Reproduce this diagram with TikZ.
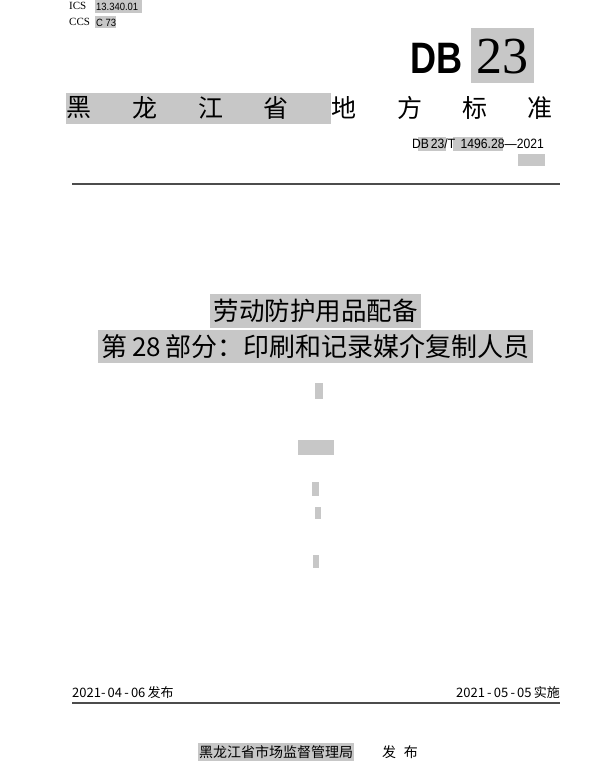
\documentclass[tikz,border=0pt]{standalone}
\usepackage{fontspec}
\setmainfont{Liberation Serif}
\newfontfamily\cjk{Noto Sans CJK SC}
\newfontfamily\lsans{Liberation Sans}
\definecolor{hl}{gray}{0.78}
\begin{document}
\begin{tikzpicture}[x=1pt,y=-1pt,
  txt/.style={inner sep=0pt,anchor=center}]
\useasboundingbox[fill=white] (0,0) rectangle (600,768);
% highlight boxes
\fill[hl] (95,0) rectangle (142,13);
\fill[hl] (95,16) rectangle (116,28);
\fill[hl] (471,28) rectangle (534,83);
\fill[hl] (66,93) rectangle (331,124);
\fill[hl] (418,137) rectangle (446,151);
\fill[hl] (453,137) rectangle (503,151);
\fill[hl] (518,154) rectangle (545,166);
\fill[hl] (210,294) rectangle (421,328);
\fill[hl] (98,330) rectangle (533,363);
\fill[hl] (315,383) rectangle (323,399);
\fill[hl] (298,440) rectangle (334,455);
\fill[hl] (312,482) rectangle (319,496);
\fill[hl] (315,507) rectangle (321,519);
\fill[hl] (313,555) rectangle (319,568);
\fill[hl] (198,743) rectangle (354,761);
% header
\node[txt,anchor=west] (ics) at (69,5.5) {\fontsize{11}{11}\selectfont ICS};
\node[txt,anchor=west] (icsv) at (96,6.5) {\lsans\fontsize{10.5}{10.5}\selectfont\scalebox{0.9}[1]{13.340.01}};
\node[txt,anchor=west] (ccs) at (69,22) {\fontsize{11}{11}\selectfont CCS};
\node[txt,anchor=west] (ccsv) at (96,22.5) {\lsans\fontsize{10.5}{10.5}\selectfont\scalebox{0.9}[1]{C 73}};
\node[txt,anchor=east] (db) at (463,58) {\lsans\bfseries\fontsize{44}{44}\selectfont\scalebox{0.82}[1]{DB}};
\node[txt] (n23) at (502,57) {\fontsize{52}{52}\selectfont 23};
% title line
\foreach \c/\x [count=\i] in {黑/79,龙/145,江/211,省/276,地/344,方/410,标/475,准/540}
  \node[txt] (t\i) at (\x,108) {\cjk\fontsize{25}{25}\selectfont \c};
\node[txt,anchor=east] (code) at (544,144) {\lsans\fontsize{13.5}{13.5}\selectfont\scalebox{0.9}[1]{DB\,23/T\;\,1496.28—2021}};
\draw[line width=1.3pt,gray!60!black] (72,184) -- (560,184);
% titles
\node[txt] (ti1) at (315.5,311) {\cjk\fontsize{25.5}{25.5}\selectfont 劳动防护用品配备};
\node[txt] (ti2) at (315.5,347) {\cjk\fontsize{26}{26}\selectfont 第\,28\,部分：印刷和记录媒介复制人员};
% dates
\node[txt,anchor=west] (d1) at (72,693) {\cjk\fontsize{13}{13}\selectfont 2021-\,04\,-\,06\,发布};
\node[txt,anchor=east] (d2) at (560,693) {\cjk\fontsize{13}{13}\selectfont 2021\,-\,05\,-\,05\,实施};
\draw[line width=1.3pt,gray!60!black] (72,703) -- (560,703);
\node[txt] (pub) at (276,752) {\cjk\fontsize{14}{14}\selectfont 黑龙江省市场监督管理局};
\node[txt] (fb) at (400,752) {\cjk\fontsize{14}{14}\selectfont 发\hspace{8pt}布};
\end{tikzpicture}
\end{document}
